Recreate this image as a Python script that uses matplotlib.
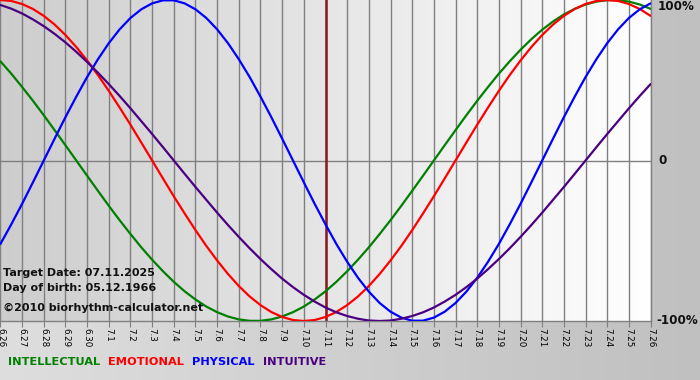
import numpy as np
import matplotlib
matplotlib.use("Agg")
import matplotlib.pyplot as plt
from matplotlib.colors import LinearSegmentedColormap

# -------------------------------------------------------------------
# Data: values read every half day (6.26 .. 7.26), range -1 .. 1
# -------------------------------------------------------------------
day_labels = ["6.26", "6.27", "6.28", "6.29", "6.30",
              "7.1", "7.2", "7.3", "7.4", "7.5", "7.6", "7.7", "7.8", "7.9",
              "7.10", "7.11", "7.12", "7.13", "7.14", "7.15", "7.16", "7.17",
              "7.18", "7.19", "7.20", "7.21", "7.22", "7.23", "7.24", "7.25",
              "7.26"]

intellectual = [0.618, 0.541, 0.458, 0.372, 0.282, 0.189, 0.095, 0.000, -0.095, -0.189,
                -0.282, -0.372, -0.458, -0.541, -0.618, -0.690, -0.756, -0.815, -0.866, -0.910,
                -0.945, -0.972, -0.990, -0.999, -0.999, -0.990, -0.972, -0.945, -0.910, -0.866,
                -0.815, -0.756, -0.690, -0.618, -0.541, -0.458, -0.372, -0.282, -0.189, -0.095,
                0.000, 0.095, 0.189, 0.282, 0.372, 0.458, 0.541, 0.618, 0.690, 0.756,
                0.815, 0.866, 0.910, 0.945, 0.972, 0.990, 0.999, 0.999, 0.990, 0.972,
                0.945]
emotional = [1.000, 0.994, 0.975, 0.944, 0.901, 0.847, 0.782, 0.707, 0.623, 0.532,
             0.434, 0.330, 0.223, 0.112, 0.000, -0.112, -0.223, -0.330, -0.434, -0.532,
             -0.623, -0.707, -0.782, -0.847, -0.901, -0.944, -0.975, -0.994, -1.000, -0.994,
             -0.975, -0.944, -0.901, -0.847, -0.782, -0.707, -0.623, -0.532, -0.434, -0.330,
             -0.223, -0.112, 0.000, 0.112, 0.223, 0.330, 0.434, 0.532, 0.623, 0.707,
             0.782, 0.847, 0.901, 0.944, 0.975, 0.994, 1.000, 0.994, 0.975, 0.944,
             0.901]
physical = [-0.520, -0.398, -0.270, -0.136, 0.000, 0.136, 0.270, 0.398, 0.520, 0.631,
            0.731, 0.817, 0.888, 0.942, 0.979, 0.998, 0.998, 0.979, 0.942, 0.888,
            0.817, 0.731, 0.631, 0.520, 0.398, 0.270, 0.136, 0.000, -0.136, -0.270,
            -0.398, -0.520, -0.631, -0.731, -0.817, -0.888, -0.942, -0.979, -0.998, -0.998,
            -0.979, -0.942, -0.888, -0.817, -0.731, -0.631, -0.520, -0.398, -0.270, -0.136,
            0.000, 0.136, 0.270, 0.398, 0.520, 0.631, 0.731, 0.817, 0.888, 0.942,
            0.979]
intuitive = [0.969, 0.946, 0.916, 0.879, 0.837, 0.789, 0.736, 0.677, 0.614, 0.547,
             0.476, 0.402, 0.325, 0.245, 0.165, 0.083, 0.000, -0.083, -0.165, -0.245,
             -0.325, -0.402, -0.476, -0.547, -0.614, -0.677, -0.736, -0.789, -0.837, -0.879,
             -0.916, -0.946, -0.969, -0.986, -0.997, -1.000, -0.997, -0.986, -0.969, -0.946,
             -0.916, -0.879, -0.837, -0.789, -0.736, -0.677, -0.614, -0.547, -0.476, -0.402,
             -0.325, -0.245, -0.165, -0.083, 0.000, 0.083, 0.165, 0.245, 0.325, 0.402,
             0.476]

target_label = "7.11"

series = [
    ("INTELLECTUAL", intellectual, "#008000"),
    ("EMOTIONAL", emotional, "#ff0000"),
    ("PHYSICAL", physical, "#0000ff"),
    ("INTUITIVE", intuitive, "#4b0082"),
]

W, H = 700, 380
fig = plt.figure(figsize=(W / 100, H / 100), dpi=100)

# figure background: soft gray gradient
bg = fig.add_axes([0, 0, 1, 1], zorder=-5)
bg.imshow(np.linspace(0, 1, 256)[None, :], aspect="auto", extent=[0, 1, 0, 1],
          cmap=LinearSegmentedColormap.from_list("bgfig", ["#dedede", "#c0c0c0"]))
bg.set_axis_off()

# plot area in pixels: x 0..651, y 0..321
ax = fig.add_axes([0 / W, 1 - 321 / H, 651 / W, 321 / H])
days = np.arange(len(day_labels))
samples = np.arange(len(physical)) / 2.0      # half-day steps
xmin, xmax = -0.02, len(day_labels) - 1 + 0.02
ax.set_xlim(xmin, xmax)
ax.set_ylim(-1.0, 1.0)

ax.imshow(np.linspace(0, 1, 256)[None, :], aspect="auto",
          extent=[xmin, xmax, -1.0, 1.0], zorder=0,
          cmap=LinearSegmentedColormap.from_list("bgax", ["#cdcdcd", "#ffffff"]))

ax.set_xticks(days)
ax.set_xticklabels(day_labels, rotation=-90, fontsize=6.3, va="top", ha="center")
ax.tick_params(axis="x", length=4, color="#808080", pad=1)
ax.set_yticks([])
ax.grid(axis="x", color="#808080", linewidth=1)
ax.axhline(0, color="#808080", linewidth=1, zorder=1)
for s in ax.spines.values():
    s.set_color("#808080")
    s.set_linewidth(1)
ax.spines["left"].set_visible(False)
ax.spines["top"].set_visible(False)

ax.axvline(day_labels.index(target_label), color="#8a1a1a", linewidth=1.8, zorder=2)

for name, vals, col in series:
    ax.plot(samples, vals, color=col, linewidth=1.6, zorder=3,
            solid_capstyle="round", solid_joinstyle="round")

# info text
info_kw = dict(fontsize=8.0, fontweight="bold", color="#111111", ha="left", va="baseline")
fig.text(3 / W, 1 - 276 / H, "Target Date: 07.11.2025", **info_kw)
fig.text(3 / W, 1 - 291 / H, "Day of birth: 05.12.1966", **info_kw)
fig.text(3 / W, 1 - 311 / H, "\u00a92010 biorhythm-calculator.net", **info_kw)

# right axis percentages
pct_kw = dict(fontsize=8.6, fontweight="bold", color="#111111", ha="left", va="center")
fig.text(658 / W, 1 - 7 / H, "100%", **pct_kw)
fig.text(658 / W, 1 - 161 / H, "0", **pct_kw)
fig.text(656 / W, 1 - 321 / H, "-100%", **pct_kw)

# legend at bottom
lx = 8
for name, vals, col in series:
    t = fig.text(lx / W, 1 - 362 / H, name, fontsize=8.2, fontweight="bold",
                 color=col, ha="left", va="center")
    fig.canvas.draw()
    bb = t.get_window_extent()
    lx = bb.x1 + 8

fig.savefig("out.png", dpi=100)
